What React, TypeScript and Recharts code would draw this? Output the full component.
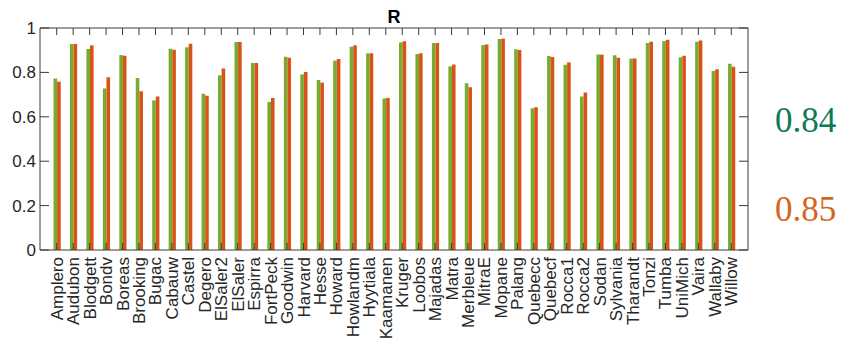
import { Bar, BarChart, XAxis, YAxis } from "recharts";

const sites = [
  "Amplero", "Audubon", "Blodgett", "Bondv", "Boreas", "Brooking", "Bugac", "Cabauw", "Castel", "Degero",
  "ElSaler2", "ElSaler", "Espirra", "FortPeck", "Goodwin", "Harvard", "Hesse", "Howard", "Howlandm", "Hyytiala",
  "Kaamanen", "Kruger", "Loobos", "Majadas", "Matra", "Merbleue", "MitraE", "Mopane", "Palang", "Quebecc",
  "Quebecf", "Rocca1", "Rocca2", "Sodan", "Sylvania", "Tharandt", "Tonzi", "Tumba", "UniMich", "Vaira",
  "Wallaby", "Willow",
];

const greenR = [
  0.772, 0.928, 0.905, 0.727, 0.878, 0.775, 0.674, 0.907, 0.913, 0.704,
  0.787, 0.937, 0.842, 0.667, 0.871, 0.791, 0.766, 0.853, 0.916, 0.886,
  0.682, 0.935, 0.883, 0.932, 0.827, 0.751, 0.923, 0.95, 0.904, 0.638,
  0.874, 0.835, 0.692, 0.881, 0.877, 0.862, 0.932, 0.941, 0.868, 0.938,
  0.806, 0.839,
];

const orangeR = [
  0.758, 0.928, 0.922, 0.778, 0.875, 0.715, 0.691, 0.902, 0.929, 0.695,
  0.818, 0.937, 0.842, 0.685, 0.866, 0.802, 0.754, 0.86, 0.922, 0.886,
  0.685, 0.94, 0.886, 0.932, 0.836, 0.733, 0.926, 0.952, 0.901, 0.643,
  0.869, 0.845, 0.71, 0.88, 0.866, 0.863, 0.938, 0.947, 0.875, 0.944,
  0.814, 0.826,
];

const yTicks = [0, 0.2, 0.4, 0.6, 0.8, 1];
const summary = [
  { label: "0.84", color: "#0f7a58" },
  { label: "0.85", color: "#d4651c" },
];

const data = sites.map((site, i) => ({ site, a: greenR[i], b: orangeR[i] }));

const AXIS = "#3a3a3a";
const FONT = "'Liberation Sans', Arial, Helvetica, sans-serif";
const X_TICK = 7;
const Y_TICK = 9;

// bottom axis: inward tick + rotated site name
function SiteTick(props: any) {
  const { x, y, payload } = props;
  const axisY = y - 7;
  return (
    <g>
      <line x1={x} x2={x} y1={axisY} y2={axisY - X_TICK} stroke={AXIS} />
      <text
        transform={`translate(${x + 6}, ${y}) rotate(-90)`}
        textAnchor="end"
        fontSize={17}
        fontFamily={FONT}
        fill="#262626"
      >
        {payload.value}
      </text>
    </g>
  );
}

function TopTick(props: any) {
  const { x, y } = props;
  return <line x1={x} x2={x} y1={y} y2={y + X_TICK} stroke={AXIS} />;
}

function LeftTick(props: any) {
  const { x, y, payload } = props;
  const axisX = x + 4;
  return (
    <g>
      <line x1={axisX} x2={axisX + Y_TICK} y1={y} y2={y} stroke={AXIS} />
      <text x={x} y={y} dy="0.35em" textAnchor="end" fontSize={17} fontFamily={FONT} fill="#262626">
        {payload.value}
      </text>
    </g>
  );
}

function RightTick(props: any) {
  const { x, y } = props;
  return <line x1={x} x2={x - Y_TICK} y1={y} y2={y} stroke={AXIS} />;
}

export default function App() {
  return (
    <div style={{ position: "absolute", left: 0, top: 0, width: 845, height: 341, background: "#fff" }}>
      <BarChart
        width={845}
        height={341}
        data={data}
        margin={{ top: 27, right: 96, left: 0, bottom: 0 }}
        barSize={3.6}
        barGap={0}
      >
        <XAxis
          dataKey="site"
          interval={0}
          height={91}
          padding={{ left: 8.5, right: 8.5 }}
          stroke={AXIS}
          tickLine={false}
          tickSize={0}
          tickMargin={7}
          tick={<SiteTick />}
        />
        <XAxis
          xAxisId="top"
          orientation="top"
          dataKey="site"
          interval={0}
          height={1}
          padding={{ left: 8.5, right: 8.5 }}
          stroke={AXIS}
          tickLine={false}
          tickSize={0}
          tickMargin={0}
          tick={<TopTick />}
        />
        <YAxis
          type="number"
          domain={[0, 1]}
          ticks={yTicks}
          width={40}
          stroke={AXIS}
          tickLine={false}
          tickSize={0}
          tickMargin={4}
          tick={<LeftTick />}
        />
        <YAxis
          yAxisId="right"
          orientation="right"
          type="number"
          domain={[0, 1]}
          ticks={yTicks}
          width={1}
          stroke={AXIS}
          tickLine={false}
          tickSize={0}
          tickMargin={0}
          tick={<RightTick />}
        />
        <Bar dataKey="a" fill="#77ac30" isAnimationActive={false} />
        <Bar dataKey="b" fill="#d95319" isAnimationActive={false} />
        {/* invisible series so the top and right box axes get drawn */}
        <Bar dataKey="a" xAxisId="top" yAxisId="right" fill="none" isAnimationActive={false} />
        <text x={394} y={23} textAnchor="middle" fontSize={18} fontWeight="bold" fontFamily={FONT} fill="#000">
          R
        </text>
        {summary.map((s, i) => (
          <text
            key={s.label}
            x={775}
            y={132 + i * 89}
            fontSize={35}
            fontFamily="'Liberation Serif', 'Times New Roman', serif"
            fill={s.color}
          >
            {s.label}
          </text>
        ))}
      </BarChart>
    </div>
  );
}
